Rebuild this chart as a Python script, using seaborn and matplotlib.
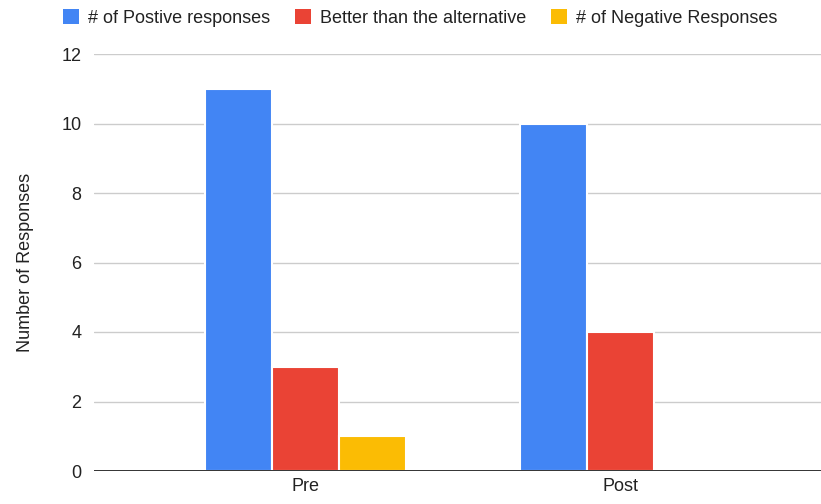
import matplotlib
matplotlib.use("Agg")
import matplotlib.pyplot as plt
import seaborn as sns
import pandas as pd
from matplotlib.patches import Patch

# Survey response counts by phase
phases = ["Pre", "Post"]
series = ["# of Postive responses", "Better than the alternative", "# of Negative Responses"]
positive = [11, 10]
better = [3, 4]
negative = [1, 0]
colors = ["#4285F4", "#EA4335", "#FBBC04"]

df = pd.DataFrame({
    "Phase": phases * 3,
    "Series": [series[0]] * 2 + [series[1]] * 2 + [series[2]] * 2,
    "Count": positive + better + negative,
})

sns.set_theme(style="white")
plt.rcParams["font.family"] = ["Liberation Sans", "DejaVu Sans"]

fig = plt.figure(figsize=(8.21, 5.04), dpi=100)
ax = fig.add_axes([94 / 821, 33 / 504, 1 - 94 / 821, (471 - 54) / 504])

sns.barplot(data=df, x="Phase", y="Count", hue="Series", hue_order=series,
            palette=colors, width=0.64, edgecolor="white", linewidth=1.5,
            saturation=1, ax=ax, legend=False)

ax.set_ylim(0, 12)
ax.set_xlim(-0.675, 1.64)
ax.set_yticks(range(0, 13, 2))
ax.yaxis.grid(True, color="#cccccc", linewidth=1)
ax.set_axisbelow(True)
ax.axhline(0, color="#333333", linewidth=1.4, zorder=5)
for s in ax.spines.values():
    s.set_visible(False)
ax.tick_params(axis="both", length=0, labelsize=13, colors="#222222")
ax.tick_params(axis="y", pad=9)
ax.tick_params(axis="x", pad=5)
ax.set_xlabel("")
ax.set_ylabel("Number of Responses", fontsize=13, color="#222222", labelpad=20)

handles = [Patch(facecolor=c, edgecolor="none") for c in colors]
fig.legend(handles, series, loc="center", bbox_to_anchor=(0.512, 0.965), ncol=3,
           frameon=False, fontsize=13, handlelength=0.9, handleheight=0.9,
           columnspacing=1.35, handletextpad=0.5, labelcolor="#222222")

fig.savefig("out.png", dpi=100)
